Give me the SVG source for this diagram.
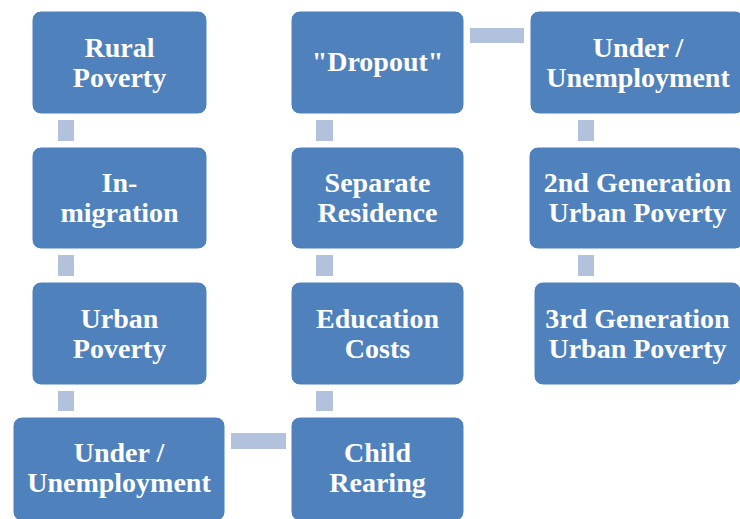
<svg xmlns="http://www.w3.org/2000/svg" width="740" height="519" viewBox="0 0 740 519">
<style>
.box{fill:#4F81BD;stroke:#FFFFFF;stroke-width:1}
.con{fill:#B3C2DC}
text{font-family:"Liberation Serif","Times New Roman",serif;font-weight:bold;font-size:28px;fill:#FFFFFF;text-anchor:middle}
</style>
<rect width="740" height="519" fill="#FFFFFF"/>
<g id="connectors">
<rect class="con" x="58" y="120" width="16" height="21"/>
<rect class="con" x="58" y="255" width="16" height="21"/>
<rect class="con" x="58" y="391" width="16" height="20"/>
<rect class="con" x="231" y="433" width="55" height="16"/>
<rect class="con" x="316" y="391" width="17" height="20"/>
<rect class="con" x="316" y="255" width="17" height="21"/>
<rect class="con" x="316" y="120" width="17" height="21"/>
<rect class="con" x="470" y="28" width="54" height="15"/>
<rect class="con" x="578" y="120" width="16" height="21"/>
<rect class="con" x="578" y="255" width="16" height="21"/>
</g>
<g id="rural-poverty">
<rect class="box" x="32" y="11" width="175" height="103" rx="9"/>
<text x="119.5" y="57">Rural</text><text x="119.5" y="87">Poverty</text>
</g>
<g id="in-migration">
<rect class="box" x="32" y="147" width="175" height="102" rx="9"/>
<text x="119.5" y="192">In-</text><text x="119.5" y="222">migration</text>
</g>
<g id="urban-poverty">
<rect class="box" x="32" y="282" width="175" height="103" rx="9"/>
<text x="119.5" y="328">Urban</text><text x="119.5" y="358">Poverty</text>
</g>
<g id="under-unemployment-1">
<rect class="box" x="13" y="417" width="212" height="104" rx="9"/>
<text x="119" y="462">Under /</text><text x="119" y="492">Unemployment</text>
</g>
<g id="child-rearing">
<rect class="box" x="291" y="417" width="173" height="104" rx="9"/>
<text x="377.5" y="462">Child</text><text x="377.5" y="492">Rearing</text>
</g>
<g id="education-costs">
<rect class="box" x="291" y="282" width="173" height="103" rx="9"/>
<text x="377.5" y="328">Education</text><text x="377.5" y="358">Costs</text>
</g>
<g id="separate-residence">
<rect class="box" x="291" y="147" width="173" height="102" rx="9"/>
<text x="377.5" y="192">Separate</text><text x="377.5" y="222">Residence</text>
</g>
<g id="dropout">
<rect class="box" x="291" y="11" width="173" height="103" rx="9"/>
<text x="377.5" y="71">"Dropout"</text>
</g>
<g id="under-unemployment-2">
<rect class="box" x="530" y="11" width="214" height="103" rx="9"/>
<text x="638" y="57">Under /</text><text x="638" y="87">Unemployment</text>
</g>
<g id="second-generation">
<rect class="box" x="529" y="147" width="215" height="102" rx="9"/>
<text x="637.5" y="192">2nd Generation</text><text x="637.5" y="222">Urban Poverty</text>
</g>
<g id="third-generation">
<rect class="box" x="534" y="282" width="207" height="103" rx="9"/>
<text x="637.5" y="328">3rd Generation</text><text x="637.5" y="358">Urban Poverty</text>
</g>
</svg>
